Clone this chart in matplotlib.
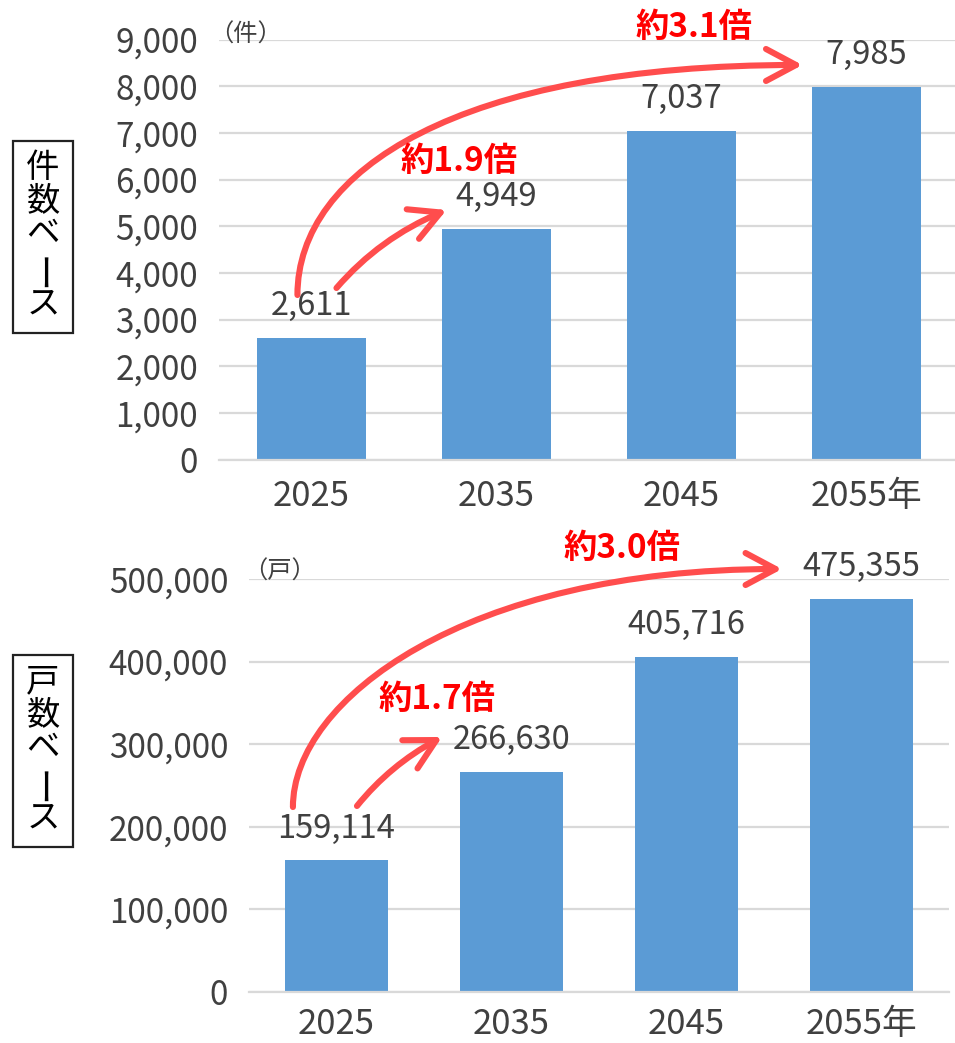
import matplotlib
matplotlib.use("Agg")
import matplotlib.pyplot as plt
from matplotlib.path import Path
from matplotlib.patches import FancyArrowPatch, Rectangle, ArrowStyle
from matplotlib.ticker import FuncFormatter

plt.rcParams['font.family'] = ['Noto Sans CJK JP', 'DejaVu Sans']

# ---- data ----
categories = ["2025", "2035", "2045", "2055年"]
cases = [2611, 4949, 7037, 7985]
units = [159114, 266630, 405716, 475355]
case_ticks = [0, 1000, 2000, 3000, 4000, 5000, 6000, 7000, 8000, 9000]
unit_ticks = [0, 100000, 200000, 300000, 400000, 500000]
top_ratios = ["約1.9倍", "約3.1倍"]
bottom_ratios = ["約1.7倍", "約3.0倍"]
top_label = "件数ベース"
bottom_label = "戸数ベース"
top_unit = "（件）"
bottom_unit = "（戸）"

BAR = "#5B9BD5"
GRID = "#D9D9D9"
TXT = "#404040"
ARROW = "#FF4D4D"
RED = "#FF0000"

W, H = 955, 1043
fig = plt.figure(figsize=(W / 100, H / 100), dpi=100)


def fx(px):
    return px / W


def fy(py):
    return 1 - py / H


def setup(ax, values, ticks, ymax, width, xpad):
    x = list(range(len(values)))
    ax.bar(x, values, width=width, color=BAR, zorder=2)
    ax.set_ylim(0, ymax)
    ax.set_yticks(ticks)
    ax.yaxis.set_major_formatter(FuncFormatter(lambda v, p: f"{int(v):,}"))
    ax.set_xticks(x)
    ax.set_xticklabels(categories)
    ax.grid(axis='y', color=GRID, linewidth=1.6, zorder=0)
    ax.set_axisbelow(True)
    for s in ['top', 'right', 'left']:
        ax.spines[s].set_visible(False)
    ax.spines['bottom'].set_color(GRID)
    ax.spines['bottom'].set_linewidth(1.6)
    ax.tick_params(axis='both', length=0, colors=TXT)
    ax.tick_params(axis='y', labelsize=24, pad=15)
    ax.tick_params(axis='x', labelsize=25, pad=xpad)
    for xi, v in zip(x, values):
        ax.annotate(f"{v:,}", (xi, v), xytext=(0, 23), textcoords='offset points',
                    ha='center', va='center', fontsize=23.5, color=TXT)


def arrow(ax, pts, codes):
    p = FancyArrowPatch(path=Path(pts, codes),
                        arrowstyle=ArrowStyle("->", head_length=0.45, head_width=0.24),
                        mutation_scale=48, color=ARROW, linewidth=4.4,
                        capstyle='round', joinstyle='round', clip_on=False, zorder=5)
    ax.add_patch(p)


def unit_label(ax, text, dx_px, dy_px):
    ax.annotate(text, (0, 1), xycoords='axes fraction',
                xytext=(dx_px * 0.72, dy_px * 0.72), textcoords='offset points',
                ha='left', va='center', fontsize=17.5, color=TXT,
                annotation_clip=False)


def vlabel(text, top_px, centers_px):
    fig.add_artist(Rectangle((fx(13), fy(top_px + 192)), fx(60), 192 / H,
                             transform=fig.transFigure, fill=False,
                             edgecolor='#222222', linewidth=1.6))
    for ch, cy in zip(text, centers_px):
        if ch == 'ー':
            fig.text(fx(47), fy(cy), ch, ha='center', va='center', fontsize=27,
                     color='black', rotation=90)
        else:
            fig.text(fx(43), fy(cy), ch, ha='center', va='center', fontsize=24,
                     color='black')


# ---- top panel ----
ax1 = fig.add_axes([fx(219), fy(459.5), fx(736), 420 / H])
setup(ax1, cases, case_ticks, 9000, 0.585, 14)
ax1.set_xlim(-0.5, -0.5 + 736 / 185)
unit_label(ax1, top_unit, -10, 5)
C4, C3 = Path.CURVE4, Path.CURVE3
arrow(ax1, [(0.135, 3675), (0.368, 4747), (0.730, 5347)], [Path.MOVETO, C3, C3])
arrow(ax1, [(-0.076, 3525), (-0.076, 6204), (0.80, 8454), (2.654, 8454)],
      [Path.MOVETO, C4, C4, C4])
ax1.text(0.80, 6375, top_ratios[0], ha='center', va='center', fontsize=24,
         fontweight='bold', color=RED, zorder=6)
ax1.text(2.07, 9247, top_ratios[1], ha='center', va='center', fontsize=24,
         fontweight='bold', color=RED, zorder=6, clip_on=False)

# ---- bottom panel ----
ax2 = fig.add_axes([fx(249), fy(991.7), fx(700), 412.7 / H])
setup(ax2, units, unit_ticks, 500000, 0.59, 11)
ax2.set_xlim(-0.5, 3.5)
unit_label(ax2, bottom_unit, -6, 7)
arrow(ax2, [(0.117, 225000), (0.306, 274600), (0.603, 308600)], [Path.MOVETO, C3, C3])
arrow(ax2, [(-0.249, 223760), (-0.249, 353400), (0.734, 512100), (2.546, 512100)],
      [Path.MOVETO, C4, C4, C4])
ax2.text(0.574, 353600, bottom_ratios[0], ha='center', va='center', fontsize=24,
         fontweight='bold', color=RED, zorder=6)
ax2.text(1.631, 537500, bottom_ratios[1], ha='center', va='center', fontsize=24,
         fontweight='bold', color=RED, zorder=6, clip_on=False)

# ---- side labels ----
vlabel(top_label, 141, [168, 201, 233, 268, 304])
vlabel(bottom_label, 655, [682, 715, 747, 782, 818])

fig.savefig("out.png", dpi=100)
